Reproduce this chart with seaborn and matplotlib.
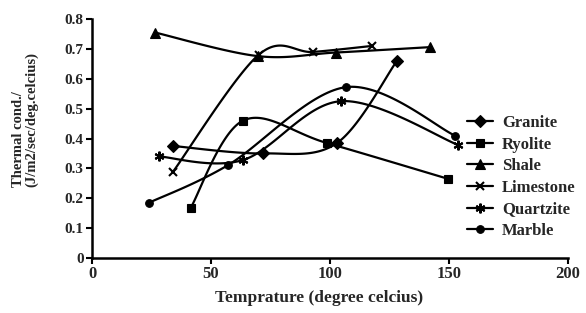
import numpy as np
import pandas as pd
import matplotlib
matplotlib.use("Agg")
import matplotlib.pyplot as plt
from matplotlib.lines import Line2D
import seaborn as sns

# ---- data ----
series_names = ["Granite", "Ryolite", "Shale", "Limestone", "Quartzite", "Marble"]
granite_x = [34, 72, 103, 128]
granite_y = [0.375, 0.350, 0.385, 0.658]
ryolite_x = [41.5, 63.5, 98.7, 149.6]
ryolite_y = [0.168, 0.460, 0.385, 0.265]
shale_x = [26.5, 69.7, 102.5, 142]
shale_y = [0.755, 0.676, 0.688, 0.706]
limestone_x = [34, 70, 93, 117.6]
limestone_y = [0.288, 0.680, 0.690, 0.710]
quartzite_x = [28, 63.5, 104.6, 154]
quartzite_y = [0.340, 0.328, 0.525, 0.378]
marble_x = [24, 57, 106.7, 152.5]
marble_y = [0.185, 0.310, 0.572, 0.410]

x_ticks = [0, 50, 100, 150, 200]
y_ticks = [0, 0.1, 0.2, 0.3, 0.4, 0.5, 0.6, 0.7, 0.8]
y_tick_labels = ["0", "0.1", "0.2", "0.3", "0.4", "0.5", "0.6", "0.7", "0.8"]

all_x = [granite_x, ryolite_x, shale_x, limestone_x, quartzite_x, marble_x]
all_y = [granite_y, ryolite_y, shale_y, limestone_y, quartzite_y, marble_y]
markers = ["D", "s", "^", "x", (6, 2, 0), "o"]
msizes = [6.5, 5.5, 6.5, 5.5, 7, 5.5]


def smooth(xs, ys, n=40):
    """Excel-like smoothed line (Catmull-Rom Bezier) through the data points."""
    p = np.column_stack([xs, ys]).astype(float)
    sy = 250.0
    p[:, 1] *= sy
    pts = [p[0]] + list(p) + [p[-1]]
    out = []
    for i in range(1, len(pts) - 2):
        p0, p1, p2, p3 = pts[i - 1], pts[i], pts[i + 1], pts[i + 2]
        c1 = p1 + (p2 - p0) / 6.0
        c2 = p2 - (p3 - p1) / 6.0
        t = np.linspace(0, 1, n)[:, None]
        seg = ((1 - t) ** 3) * p1 + 3 * ((1 - t) ** 2) * t * c1 + 3 * (1 - t) * t ** 2 * c2 + t ** 3 * p2
        out.append(seg if i == 1 else seg[1:])
    out = np.vstack(out)
    out[:, 1] /= sy
    return out[:, 0], out[:, 1]


sns.set_theme(style="ticks")
plt.rcParams["font.family"] = ["Liberation Serif", "DejaVu Serif"]
plt.rcParams["font.weight"] = "bold"

fig = plt.figure(figsize=(5.86, 3.13), dpi=100)
ax = fig.add_axes([0.157, 0.176, 0.812, 0.763])

for name, xs, ys, m, ms in zip(series_names, all_x, all_y, markers, msizes):
    cx, cy = smooth(xs, ys)
    sns.lineplot(x=cx, y=cy, sort=False, estimator=None, color="black", lw=1.6, ax=ax)
    ax.plot(xs, ys, linestyle="none", marker=m, color="black", markersize=ms,
            markeredgewidth=1.5 if m in ("x", (6, 2, 0)) else 0.8)

ax.set_xlim(0, 200)
ax.set_ylim(0, 0.8)
ax.set_xticks(x_ticks)
ax.set_xticklabels([str(v) for v in x_ticks], fontsize=12, fontweight="bold")
ax.set_yticks(y_ticks)
ax.set_yticklabels(y_tick_labels, fontsize=11, fontweight="bold")
ax.tick_params(axis="both", direction="out", length=4, width=1.5, color="black", pad=2)
for s in ["top", "right"]:
    ax.spines[s].set_visible(False)
for s in ["left", "bottom"]:
    ax.spines[s].set_linewidth(1.8)
    ax.spines[s].set_color("black")

ax.set_xlabel("Temprature (degree celcius)", fontsize=12.5, fontweight="bold")
ax.xaxis.set_label_coords(0.477, -0.135)
ax.set_ylabel("Thermal cond./\n(J/m2/sec/deg.celcius)", fontsize=10.5, fontweight="bold",
              linespacing=1.0, multialignment="left")
ax.yaxis.set_label_coords(-0.113, 0.58)

handles = [Line2D([0], [0], color="black", lw=1.6, marker=m, markersize=ms,
                  markeredgewidth=1.5 if m in ("x", (6, 2, 0)) else 0.8)
           for m, ms in zip(markers, msizes)]
fig.legend(handles, series_names, loc="upper left", bbox_to_anchor=(0.797, 0.633),
           frameon=False, handlelength=1.55, handletextpad=0.55,
           labelspacing=0.34, borderpad=0, borderaxespad=0,
           prop={"weight": "bold", "size": 12})

fig.savefig("out.png", dpi=100)
